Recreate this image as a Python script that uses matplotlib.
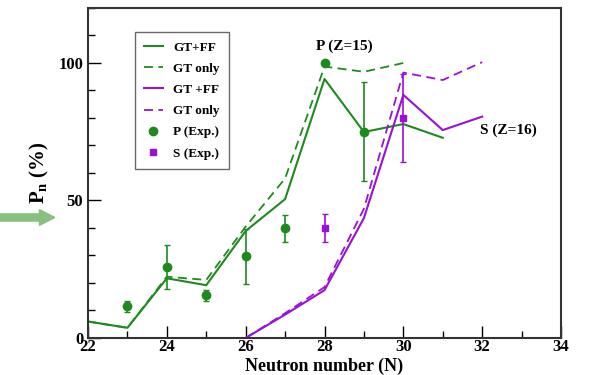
import numpy as np
import matplotlib.pyplot as plt
from matplotlib.patches import FancyArrow

plt.rcParams['font.family'] = ['Liberation Serif', 'DejaVu Serif']
plt.rcParams['font.weight'] = 'bold'
plt.rcParams['mathtext.fontset'] = 'custom'
plt.rcParams['mathtext.rm'] = 'Liberation Serif:bold'
plt.rcParams['mathtext.bf'] = 'Liberation Serif:bold'

# P (Z=15) calculations
p_n = [22, 23, 24, 25, 26, 27, 28, 29, 30, 31]
p_gtff = [6, 3.7, 21.7, 19.2, 38.9, 50.5, 94.2, 74.9, 77.8, 72.8]
p_gt = [6, 3.7, 22.3, 21.1, 40.5, 58, 98.7, 96.8, 100]
# S (Z=16) calculations
s_n = [26, 27, 28, 29, 30, 31, 32]
s_gtff = [0, 8.5, 17.4, 43.6, 88.4, 75.6, 80.5]
s_gt = [0, 9, 18.5, 47, 96.5, 93.8, 100.3]
# experiment
p_exp_n = [23, 24, 25, 26, 27, 28, 29]
p_exp = [11.6, 25.7, 15.6, 29.8, 39.9, 100, 75]
p_exp_err = [2, 8, 2, 10, 5, 0, 18]
s_exp_n = [28, 30]
s_exp = [40, 80]
s_exp_err = [5, 16]

green = '#1e8a1e'
purple = '#9a10d8'

fig = plt.figure(figsize=(5.89, 3.75), dpi=100)
ax = fig.add_axes([0.1494, 0.0987, 0.8031, 0.88])

ax.plot(p_n, p_gtff, color=green, lw=1.5, label='GT+FF')
ax.plot(p_n[:len(p_gt)], p_gt, color=green, lw=1.3, ls=(0, (5, 3)),
        label='GT only')
ax.plot(s_n, s_gtff, color=purple, lw=1.5, label='GT +FF')
ax.plot(s_n, s_gt, color=purple, lw=1.3, ls=(0, (5, 3)), label='GT only')
ax.errorbar(p_exp_n, p_exp, yerr=p_exp_err, fmt='none', ecolor=green,
            elinewidth=1.2, capsize=2.5)
ax.errorbar(s_exp_n, s_exp, yerr=s_exp_err, fmt='none', ecolor=purple,
            elinewidth=1.2, capsize=2.5)
ax.plot(p_exp_n, p_exp, 'o', color=green, ms=6, label='P (Exp.)')
ax.plot(s_exp_n, s_exp, 's', color=purple, ms=5, label='S (Exp.)')

ax.set_xlim(22, 34)
ax.set_ylim(0, 120)
ax.set_xticks([22, 24, 26, 28, 30, 32, 34])
ax.set_xticks(np.arange(22, 35, 1), minor=True)
ax.set_yticks([0, 50, 100])
ax.set_yticks(np.arange(0, 121, 10), minor=True)
ax.tick_params(direction='in', which='major', length=9, width=1,
               labelsize=12)
ax.tick_params(direction='in', which='minor', length=5, width=1)
ax.tick_params(axis='x', which='major', pad=1)
for lab in ax.get_xticklabels() + ax.get_yticklabels():
    lab.set_fontweight('bold')
for s in ax.spines.values():
    s.set_linewidth(1.5)
    s.set_color('#333333')

ax.set_xlabel('Neutron number (N)', fontsize=13, fontweight='bold')
ax.xaxis.set_label_coords(0.5, -0.06)
ax.set_ylabel(r'P$_\mathbf{n}$ (%)', fontsize=15, fontweight='bold')
ax.yaxis.set_label_coords(-0.078, 0.5)

ax.text(28.5, 106, 'P (Z=15)', fontsize=11, fontweight='bold',
        ha='center', va='center')
ax.text(31.95, 75.5, 'S (Z=16)', fontsize=11, fontweight='bold',
        ha='left', va='center')

leg = ax.legend(loc='upper left', bbox_to_anchor=(0.099, 0.927),
                fontsize=9.5, frameon=True, fancybox=False,
                edgecolor='#444444', handlelength=1.4, handletextpad=0.8,
                borderpad=0.7, labelspacing=0.68, borderaxespad=0)
leg.get_frame().set_linewidth(1)
for t in leg.get_texts():
    t.set_fontweight('bold')

fig.patches.append(FancyArrow(0.0, 0.42, 0.093, 0, width=0.019,
                              head_width=0.042, head_length=0.026,
                              length_includes_head=True,
                              color='#88c07e', transform=fig.transFigure,
                              figure=fig))

fig.savefig('out.png', dpi=100)
